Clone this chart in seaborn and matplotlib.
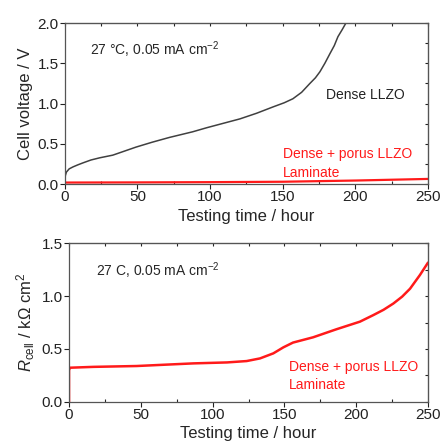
import numpy as np
import pandas as pd
import seaborn as sns
import matplotlib.pyplot as plt

# Dense LLZO cell voltage (V) vs testing time (hour)
dense_t = [0, 0.4, 1.1, 3, 5.7, 9, 12.6, 18, 24, 33, 41, 49, 60, 72, 80, 88, 97.6, 108, 120.5, 132, 143.5, 151, 157, 163, 168.7, 172.5, 175.6, 179, 182.5, 185.5, 188, 191, 193.5]
dense_v = [0.06, 0.11, 0.15, 0.19, 0.215, 0.24, 0.265, 0.30, 0.327, 0.36, 0.41, 0.46, 0.52, 0.58, 0.615, 0.65, 0.70, 0.75, 0.81, 0.88, 0.96, 1.01, 1.06, 1.14, 1.25, 1.32, 1.395, 1.50, 1.62, 1.72, 1.83, 1.92, 2.0]

# Dense + porous LLZO laminate cell voltage (V)
lam_t = [0, 50, 100, 150, 200, 250]
lam_v = [0.02, 0.022, 0.025, 0.03, 0.045, 0.065]

# Laminate cell resistance (kOhm cm2)
res_t = [0, 0.01, 0.7, 17, 47, 86.6, 110, 123.7, 133, 142.3, 149.3, 156, 163, 170, 186, 202.6, 211.9, 219, 225.9, 232, 237.5, 244.4, 250]
res_r = [0.0, 0.3, 0.322, 0.33, 0.338, 0.363, 0.372, 0.385, 0.41, 0.458, 0.515, 0.56, 0.585, 0.61, 0.685, 0.758, 0.82, 0.87, 0.93, 0.995, 1.07, 1.2, 1.317]

sns.set_style("ticks")
plt.rcParams["font.family"] = ["Liberation Sans", "DejaVu Sans"]
plt.rcParams["mathtext.fontset"] = "custom"
plt.rcParams["mathtext.rm"] = "Liberation Sans"
plt.rcParams["mathtext.it"] = "Liberation Sans:italic"

fig = plt.figure(figsize=(4.41, 4.47), dpi=100)
ax1 = fig.add_axes([0.147, 0.588, 0.8235, 0.3605])
ax2 = fig.add_axes([0.1565, 0.1013, 0.814, 0.3544])

dense = pd.DataFrame({"t": dense_t, "v": dense_v})
lam = pd.DataFrame({"t": lam_t, "v": lam_v})
res = pd.DataFrame({"t": res_t, "r": res_r})

sns.lineplot(data=dense, x="t", y="v", ax=ax1, color="#404040", linewidth=1.1)
sns.lineplot(data=lam, x="t", y="v", ax=ax1, color="#ff1a1a", linewidth=1.6)
sns.lineplot(data=res, x="t", y="r", ax=ax2, color="#ff1a1a", linewidth=1.8)


def style(ax, ymax, ystep):
    ax.set_xlim(0, 250)
    ax.set_ylim(0, ymax)
    ax.set_xticks(np.arange(0, 251, 50))
    ax.set_xticks(np.arange(25, 250, 50), minor=True)
    ax.set_yticks(np.arange(0, ymax + 0.01, ystep))
    ax.set_yticks(np.arange(ystep / 2, ymax, ystep), minor=True)
    ax.tick_params(which="major", direction="out", length=3.5, width=0.8, labelsize=11, colors="#222222", pad=1)
    ax.tick_params(which="minor", direction="in", length=2, width=0.8)
    ax.tick_params(axis="y", which="minor", length=0)
    ax.yaxis.set_major_formatter(plt.FuncFormatter(lambda v, p: f"{v:.1f}"))
    for s in ax.spines.values():
        s.set_color("#555555")
        s.set_linewidth(0.9)
    top = ax.secondary_xaxis("top")
    top.set_xticks(np.arange(0, 251, 50))
    top.set_xticks(np.arange(25, 250, 50), minor=True)
    top.tick_params(which="both", direction="in", labeltop=False, length=2.5, width=0.8)
    right = ax.secondary_yaxis("right")
    right.set_yticks(np.arange(0, ymax + 0.01, ystep))
    right.set_yticks(np.arange(ystep / 2, ymax, ystep), minor=True)
    right.tick_params(which="both", direction="in", labelright=False, length=2.5, width=0.8)
    ax.set_xlabel("Testing time / hour", fontsize=12, labelpad=3)


style(ax1, 2.0, 0.5)
style(ax2, 1.5, 0.5)

ax1.set_ylabel("Cell voltage / V", fontsize=12, labelpad=3)
ax2.set_ylabel(r"$\mathit{R}_\mathregular{cell}$ / kΩ cm$^\mathregular{2}$", fontsize=12, labelpad=3)

ax1.text(0.07, 0.80, "27 °C, 0.05 mA cm$^\\mathregular{-2}$", transform=ax1.transAxes, fontsize=10)
ax1.text(0.72, 0.53, "Dense LLZO", transform=ax1.transAxes, fontsize=10, color="#222222")
ax1.text(0.6, 0.16, "Dense + porus LLZO", transform=ax1.transAxes, fontsize=10, color="#ff1a1a")
ax1.text(0.6, 0.045, "Laminate", transform=ax1.transAxes, fontsize=10, color="#ff1a1a")

ax2.text(0.075, 0.795, "27 C, 0.05 mA cm$^\\mathregular{-2}$", transform=ax2.transAxes, fontsize=10)
ax2.text(0.613, 0.195, "Dense + porus LLZO", transform=ax2.transAxes, fontsize=10, color="#ff1a1a")
ax2.text(0.613, 0.08, "Laminate", transform=ax2.transAxes, fontsize=10, color="#ff1a1a")

fig.savefig("out.png", dpi=100)
